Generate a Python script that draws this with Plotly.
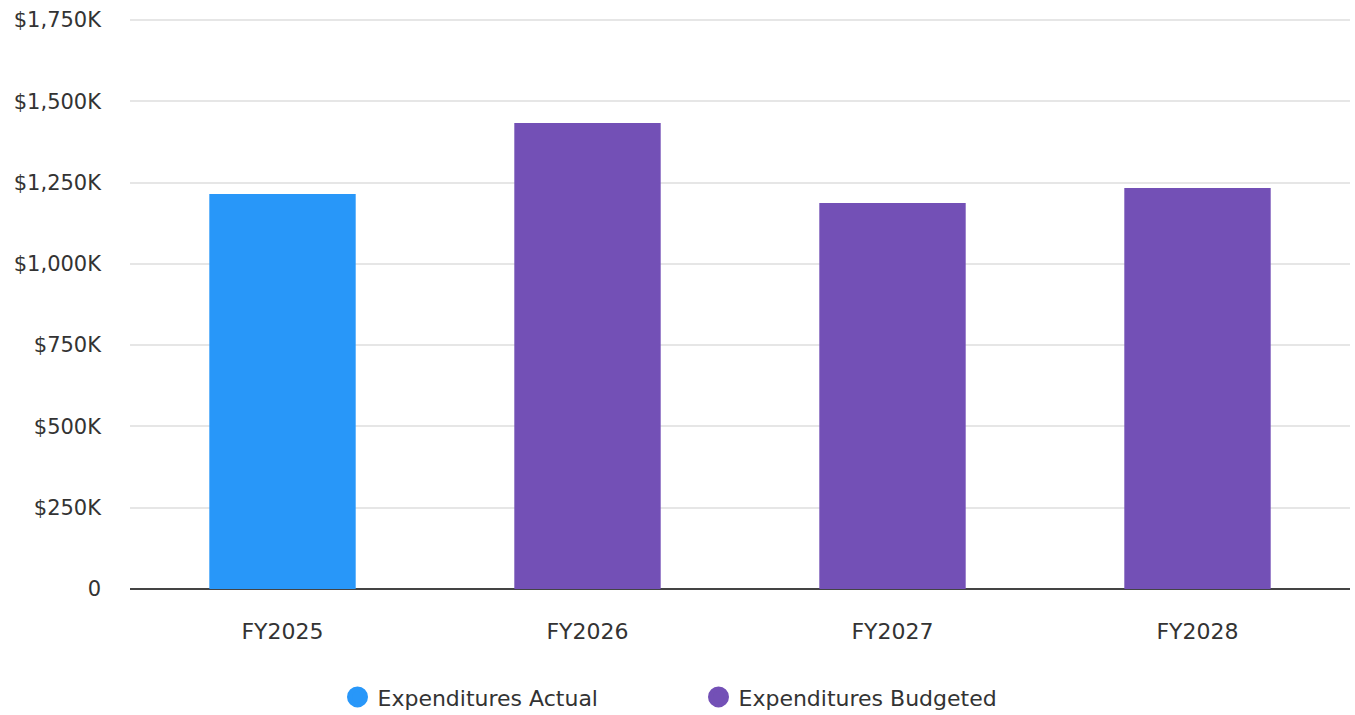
import plotly.graph_objects as go

categories = ["FY2025", "FY2026", "FY2027", "FY2028"]
actual_cats = ["FY2025"]
actual_vals = [1215000]
budget_cats = ["FY2026", "FY2027", "FY2028"]
budget_vals = [1433000, 1187000, 1233000]
tick_vals = [0, 250000, 500000, 750000, 1000000, 1250000, 1500000, 1750000]
tick_text = ["0", "$250K", "$500K", "$750K", "$1,000K", "$1,250K", "$1,500K", "$1,750K"]

BLUE = "#2897F9"
PURPLE = "#7350B6"
FONT = "DejaVu Sans"
TXT = "#333333"

fig = go.Figure()
fig.add_trace(go.Bar(x=actual_cats, y=actual_vals, name="Expenditures Actual",
                     marker=dict(color=BLUE, line=dict(width=0)), width=0.48, showlegend=False))
fig.add_trace(go.Bar(x=budget_cats, y=budget_vals, name="Expenditures Budgeted",
                     marker=dict(color=PURPLE, line=dict(width=0)), width=0.48, showlegend=False))
fig.add_trace(go.Scatter(x=[None], y=[None], mode="markers", name="Expenditures Actual",
                         marker=dict(color=BLUE, size=22, symbol="circle",
                                     line=dict(color=BLUE, width=5))))
fig.add_trace(go.Scatter(x=[None], y=[None], mode="markers", name="Expenditures Budgeted",
                         marker=dict(color=PURPLE, size=22, symbol="circle",
                                     line=dict(color=PURPLE, width=5))))

fig.update_layout(
    width=1355, height=715,
    margin=dict(l=130, r=5, t=18, b=126),
    paper_bgcolor="white", plot_bgcolor="white",
    barmode="overlay",
    font=dict(family=FONT, size=21, color=TXT),
    legend=dict(orientation="h", xref="container", x=0.5155, xanchor="center",
                yref="container", y=0.025, yanchor="middle",
                font=dict(family=FONT, size=22, color=TXT),
                itemsizing="trace", entrywidth=316, entrywidthmode="pixels"),
    xaxis=dict(categoryorder="array", categoryarray=categories, type="category",
               showgrid=False, showline=False, ticks="", tickfont=dict(size=22),
               ticklabelstandoff=27, automargin=False),
    yaxis=dict(range=[0, 1756151], tickvals=tick_vals, ticktext=tick_text,
               showgrid=True, gridcolor="#E6E6E6", gridwidth=2, zeroline=True,
               zerolinecolor="#444444", zerolinewidth=2, showline=False, ticks="",
               tickfont=dict(size=21), ticklabelstandoff=28, automargin=False),
)

fig.write_html("out.html", config={"displayModeBar": False},
               post_script="document.body.style.margin='0';document.body.style.overflow='hidden';")
